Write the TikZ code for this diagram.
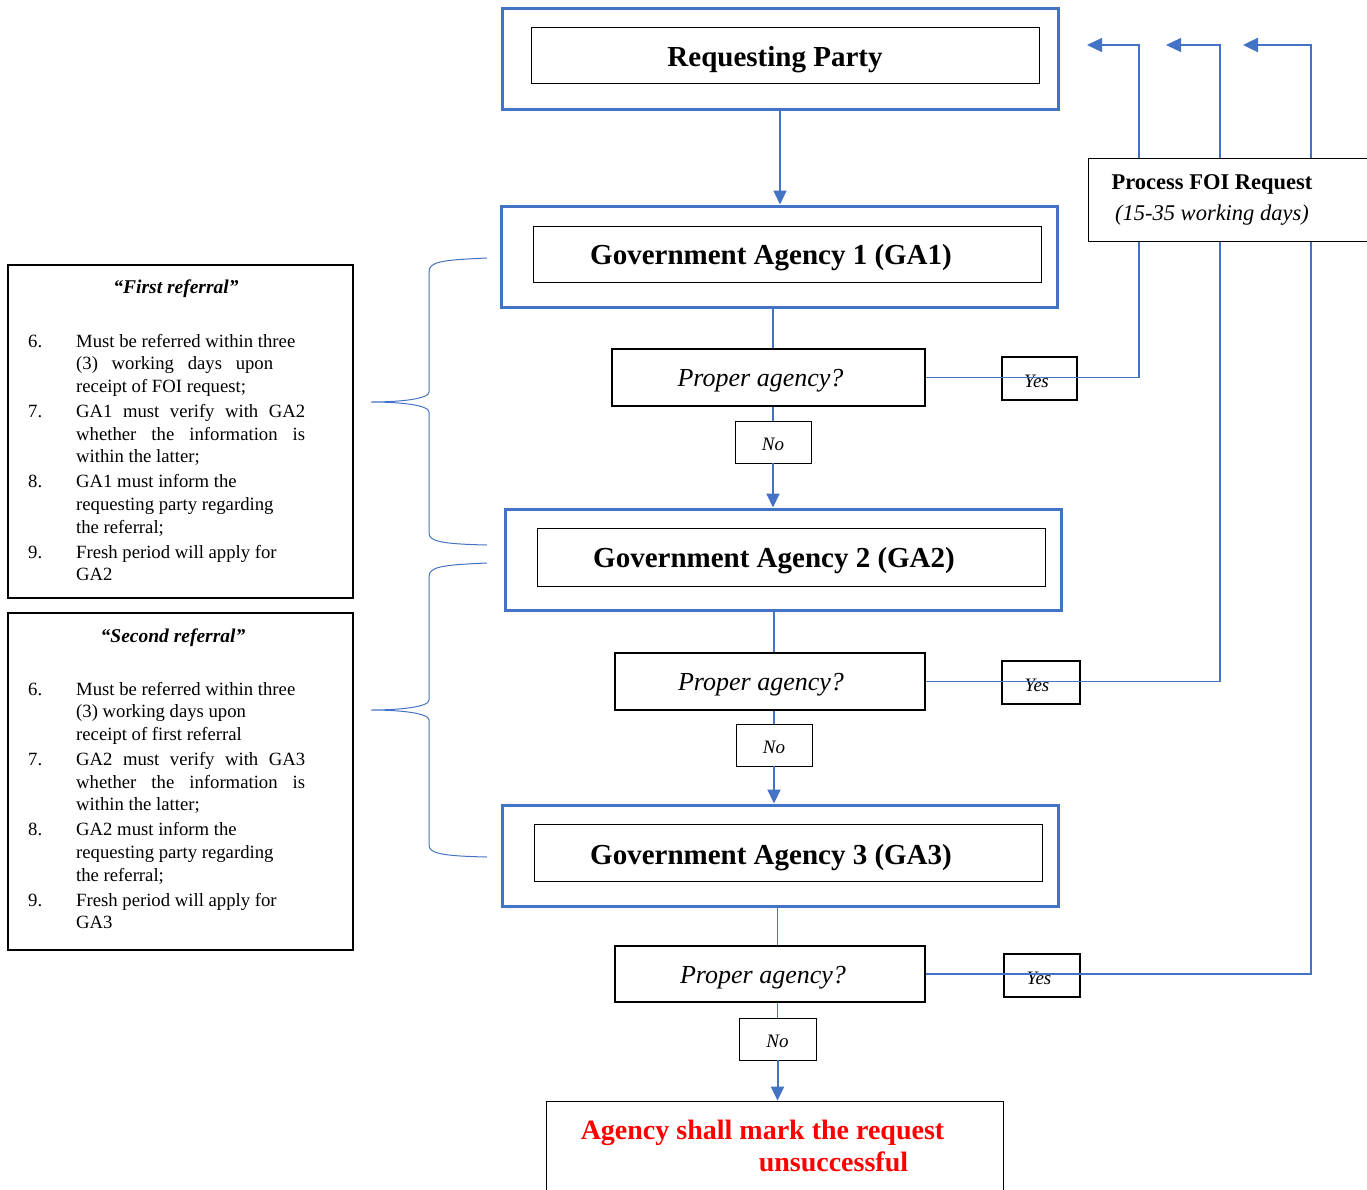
\documentclass[tikz,border=0pt]{standalone}
\usepackage{fontspec}
\setmainfont{Liberation Serif}
\usetikzlibrary{arrows.meta}
\definecolor{wordblue}{RGB}{68,114,196}
\tikzset{
	agencyframe/.style={draw=wordblue, line width=3pt, minimum width=556pt, minimum height=101pt, inner sep=0pt},
	agencybox/.style={draw=black, line width=0.8pt, minimum width=508pt, minimum height=57pt, inner sep=0pt, font=\fontsize{29}{34}\selectfont\bfseries},
	askbox/.style={draw=black, line width=2.6pt, minimum width=311pt, minimum height=57pt, inner sep=0pt, font=\fontsize{26}{30}\selectfont\itshape},
	nobox/.style={draw=black, line width=0.8pt, minimum width=76pt, minimum height=42pt, inner sep=0pt, font=\fontsize{19}{22}\selectfont\itshape},
	yesbox/.style={draw=black, line width=2.2pt, minimum width=76pt, minimum height=43pt, inner sep=0pt, font=\fontsize{19}{22}\selectfont\itshape},
	refbox/.style={draw=black, line width=2pt, minimum width=345pt, inner sep=0pt},
	reftitle/.style={inner sep=0pt, font=\fontsize{19.5}{23}\selectfont\bfseries\itshape},
	reflist/.style={inner sep=0pt, font=\fontsize{18.7}{22.7}\selectfont},
	link/.style={draw=wordblue, line width=1.2pt},
	flow/.style={draw=wordblue, line width=2pt, -{Triangle[width=13pt,length=14pt]}},
	back/.style={draw=wordblue, line width=1.2pt, -{Triangle[width=14pt,length=15pt]}},
	bracel/.style={draw=wordblue, line width=1pt}
}
% brace from top end, tip and bottom end (y values)
\def\refbrace(#1:#2:#3){\draw[bracel] (487,#1) .. controls (440,#1+2) and (429,#1+4) .. (429,#1+14) -- (429,#2-10) .. controls (429,#2-3) and (400,#2) .. (371,#2) .. controls (400,#2) and (429,#2+3) .. (429,#2+10) -- (429,#3-12) .. controls (429,#3-4) and (440,#3-1) .. (487,#3);}
% text set lower in its box
\def\lowtext#1#2{\raisebox{-#1}[\height][\depth]{#2}}

\begin{document}
\begin{tikzpicture}[x=1pt, y=-1pt]
	%%%%% START %%%%%
	\useasboundingbox (0,0) rectangle (1367,1189);
	
	\node[agencyframe] (rpout) at (780, 59) {};
	\node[agencybox, minimum height=56pt] (rp) at (785, 55) {\lowtext{5pt}{Requesting Party}\hspace*{20pt}};
	
	\node[agencyframe] (ga1out) at (779.5, 256.5) {};
	\node[agencybox, minimum height=56pt] (ga1) at (787, 254) {\lowtext{4pt}{Government Agency 1 (GA1)}\hspace*{32pt}};
	
	\node[agencyframe] (ga2out) at (783, 559.5) {};
	\node[agencybox, minimum height=58pt] (ga2) at (791, 557) {\lowtext{4pt}{Government Agency 2 (GA2)}\hspace*{34pt}};
	
	\node[agencyframe] (ga3out) at (780, 855.5) {};
	\node[agencybox] (ga3) at (788, 852.5) {\lowtext{5pt}{Government Agency 3 (GA3)}\hspace*{34pt}};
	
	\node[askbox, minimum width=313pt] (pa1) at (768.5, 377.5) {\lowtext{3pt}{Proper agency?}\hspace*{16pt}};
	\node[askbox, minimum width=310pt] (pa2) at (770, 681.5) {\lowtext{3pt}{Proper agency?}\hspace*{18pt}};
	\node[askbox, minimum width=310pt, minimum height=56pt] (pa3) at (770, 974) {\lowtext{4pt}{Proper agency?}\hspace*{14pt}};
	
	\node[nobox] (no1) at (773, 442) {\lowtext{2pt}{No}};
	\node[nobox] (no2) at (774, 745) {\lowtext{2pt}{No}};
	\node[nobox, minimum width=77pt] (no3) at (777.5, 1039) {\lowtext{2pt}{No}};
	
	\node[yesbox, minimum width=75pt] (yes1) at (1039.5, 378.5) {\lowtext{3pt}{Yes}\hspace*{6pt}};
	\node[yesbox, minimum width=78pt] (yes2) at (1041, 682.5) {\lowtext{3pt}{Yes}\hspace*{8pt}};
	\node[yesbox] (yes3) at (1042, 975.5) {\lowtext{3pt}{Yes}\hspace*{6pt}};
	
	\node[draw=black, line width=0.8pt, minimum width=457pt, minimum height=98pt, inner sep=0pt, align=left, text=red, font=\fontsize{28}{32}\selectfont\bfseries] (fail) at (774.5, 1150) {Agency shall mark the request\hspace*{24pt}\\\hspace*{178pt}unsuccessful\\[-24pt]};
	
	\coordinate (up1) at (1139, 45);
	\coordinate (up2) at (1220, 45);
	\coordinate (up3) at (1311, 45);
	\coordinate (tip1) at (1087, 45);
	\coordinate (tip2) at (1166, 45);
	\coordinate (tip3) at (1243, 45);
	
	\draw[flow] (rpout.south) -- (rpout.south |- ga1out.north);
	
	\draw[link] (no1 |- ga1out.south) -- (no1 |- pa1.north);
	\draw[link] (no1.north |- pa1.south) -- (no1.north);
	\draw[flow] (no1.south) -- (no1.south |- ga2out.north);
	
	\draw[link] (no2 |- ga2out.south) -- (no2 |- pa2.north);
	\draw[link] (no2.north |- pa2.south) -- (no2.north);
	\draw[flow] (no2.south) -- (no2.south |- ga3out.north);
	
	\draw[link] (no3 |- ga3out.south) -- (no3 |- pa3.north);
	\draw[link] (no3.north |- pa3.south) -- (no3.north);
	\draw[flow] (no3.south) -- (no3.south |- fail.north);
	
	\draw[back] (pa1.east) -| (up1) -- (tip1);
	\draw[back] (pa2.east) -| (up2) -- (tip2);
	\draw[back, line width=2.5pt] (pa3.east) -| (up3) -- (tip3);
	
	\node[draw=black, fill=white, line width=0.8pt, minimum width=282pt, minimum height=83pt, inner sep=0pt] (foi) at (1229, 199.5) {};
	\node[align=center, inner sep=0pt, font=\fontsize{22.5}{31}\selectfont] (foitext) at (1212, 200) {{\bfseries Process FOI Request}\\{\itshape (15-35 working days)}};
	
	\refbrace(258:402:545)
	\refbrace(563:710:857)
	
	\node[refbox, minimum height=333pt] (ref1) at (180.5, 431.5) {};
	\node[reftitle, anchor=base] (ref1head) at (176, 293) {``First referral''};
	\node[reflist, anchor=base west] (ref1list) at (28, 347) {\begin{tabular}[t]{@{}p{48pt}@{}l@{}}
		6. & Must be referred within three\\
		   & \makebox[197pt][s]{(3) working days upon}\\
		   & receipt of FOI request;\\[2.3pt]
		7. & \makebox[229pt][s]{GA1 must verify with GA2}\\
		   & \makebox[229pt][s]{whether the information is}\\
		   & within the latter;\\[2.3pt]
		8. & GA1 must inform the\\
		   & requesting party regarding\\
		   & the referral;\\[2.3pt]
		9. & Fresh period will apply for\\
		   & GA2
	\end{tabular}};
	
	\node[refbox, minimum height=337pt] (ref2) at (180.5, 781.5) {};
	\node[reftitle, anchor=base] (ref2head) at (173, 642) {``Second referral''};
	\node[reflist, anchor=base west] (ref2list) at (28, 695) {\begin{tabular}[t]{@{}p{48pt}@{}l@{}}
		6. & Must be referred within three\\
		   & (3) working days upon\\
		   & receipt of first referral\\[2.3pt]
		7. & \makebox[229pt][s]{GA2 must verify with GA3}\\
		   & \makebox[229pt][s]{whether the information is}\\
		   & within the latter;\\[2.3pt]
		8. & GA2 must inform the\\
		   & requesting party regarding\\
		   & the referral;\\[2.3pt]
		9. & Fresh period will apply for\\
		   & GA3
	\end{tabular}};
	
	%%%%% END %%%%%
\end{tikzpicture}
\end{document}
